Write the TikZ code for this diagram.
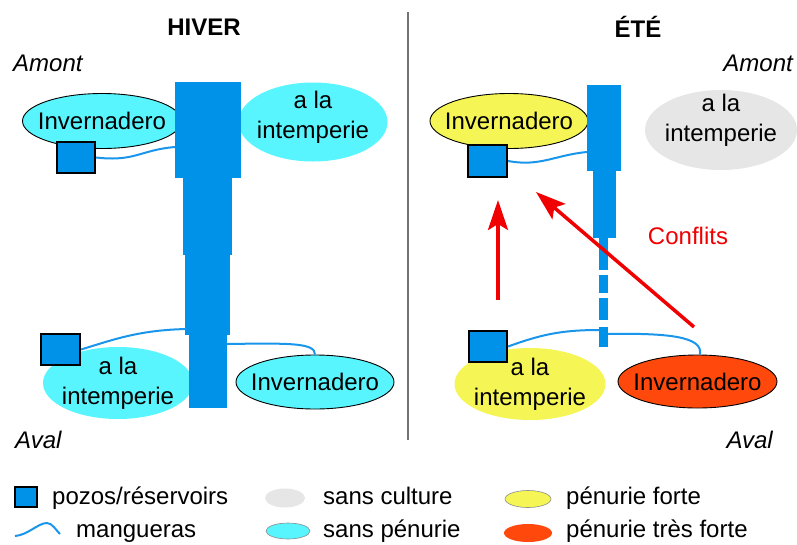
\documentclass[tikz,border=0pt]{standalone}
\usepackage{fontspec}
\setmainfont{Liberation Sans}
\usetikzlibrary{shapes.geometric,arrows.meta}
\definecolor{riverblue}{RGB}{0,146,232}
\definecolor{hoseblue}{RGB}{25,150,235}
\definecolor{cyanfill}{RGB}{88,245,255}
\definecolor{yellowfill}{RGB}{245,245,85}
\definecolor{grayfill}{RGB}{230,230,230}
\definecolor{redfill}{RGB}{255,72,12}
\definecolor{arrowred}{RGB}{240,0,0}
\begin{document}
\begin{tikzpicture}[x=1pt,y=-1pt,
  lbl/.style={inner sep=0pt, font=\fontsize{24}{29}\selectfont},
  ital/.style={inner sep=0pt, font=\itshape\fontsize{24}{29}\selectfont},
  ttl/.style={inner sep=0pt, font=\bfseries\fontsize{24}{29}\selectfont},
  ell/.style={ellipse, inner sep=0pt},
  etxt/.style={inner sep=0pt, align=center, font=\fontsize{24}{30}\selectfont},
  bord/.style={draw=black, line width=0.9pt},
  well/.style={rectangle, draw=black, line width=2.2pt, fill=riverblue, inner sep=0pt},
  hose/.style={draw=hoseblue, line width=2pt},
  conflict/.style={draw=arrowred, line width=3.5pt, -{Stealth[length=30pt,width=20pt,inset=6pt]}},
  river/.style={fill=riverblue}]
\useasboundingbox (0,0) rectangle (797,544);

% titles and divider
\node[ttl] (hiver) at (204,27) {HIVER};
\node[ttl] (ete) at (638,27) {ÉTÉ};
\coordinate (divtop) at (408,12);
\coordinate (divbot) at (408,440);
\draw[black!55, line width=1.2pt] (divtop) -- (divbot);

\node[ital, anchor=west] (amontL) at (13,63) {Amont};
\node[ital, anchor=east] (amontR) at (793,63) {Amont};
\node[ital, anchor=west] (avalL) at (15,440) {Aval};
\node[ital, anchor=east] (avalR) at (773,440) {Aval};

% ---------------- HIVER ----------------
\node[ell, bord, fill=cyanfill, minimum width=159pt, minimum height=55pt,
      label={[etxt]center:Invernadero}] (hinvT) at (102,121) {};
\node[ell, fill=cyanfill, minimum width=149pt, minimum height=79pt,
      label={[etxt, yshift=5pt]center:{a la\\intemperie}}] (hintT) at (313,122) {};
\node[ell, fill=cyanfill, minimum width=150pt, minimum height=72pt,
      label={[etxt]center:{a la\\intemperie}}] (hintB) at (118,383) {};
\node[ell, bord, fill=cyanfill, minimum width=158pt, minimum height=54pt,
      label={[etxt]center:Invernadero}] (hinvB) at (315,382) {};

\fill[river] (175,82) rectangle (241,178);
\fill[river] (183,178) rectangle (232,255);
\fill[river] (185,255) rectangle (230,335);
\fill[river] (189,335) rectangle (227,408);

\node[well, minimum width=38pt, minimum height=31pt] (hwT) at (76,157.5) {};
\node[well, minimum width=39pt, minimum height=31pt] (hwB) at (60.5,349.5) {};

\coordinate (hrT) at (175,147);
\coordinate (hrB) at (187,329);
\coordinate (hrR) at (227,344);
\draw[hose] (hwT.east) .. controls (135,162) and (140,150) .. (hrT);
\draw[hose] (hwB.east) .. controls (115,339) and (140,330) .. (hrB);
\draw[hose] (hrR) .. controls (292,343) and (315,343) .. (hinvB.north);

% ---------------- ETE ----------------
\node[ell, bord, fill=yellowfill, minimum width=158pt, minimum height=55pt,
      label={[etxt]center:Invernadero}] (einvT) at (509,121) {};
\node[ell, fill=grayfill, minimum width=152pt, minimum height=80pt,
      label={[etxt, yshift=10pt]center:{a la\\intemperie}}] (eintT) at (721,130) {};
\node[ell, fill=yellowfill, minimum width=151pt, minimum height=72pt,
      label={[etxt]center:{a la\\intemperie}}] (eintB) at (530,384) {};
\node[ell, bord, fill=redfill, minimum width=159pt, minimum height=53pt,
      label={[etxt]center:Invernadero}] (einvB) at (697.5,381.5) {};

\fill[river] (587,85) rectangle (621,171);
\fill[river] (593,171) rectangle (616,238);
\fill[river] (599,238) rectangle (608,270);
\fill[river] (599,275) rectangle (608,293);
\fill[river] (599,298) rectangle (608,320);
\fill[river] (599,327) rectangle (608,347);

\node[well, minimum width=39pt, minimum height=32pt] (ewT) at (487.5,161) {};
\node[well, minimum width=38pt, minimum height=31pt] (ewB) at (488,346.5) {};

\coordinate (erT) at (587,152);
\coordinate (erB) at (599,330);
\coordinate (erR) at (608,334);
\draw[hose] (ewT.east) .. controls (540,167) and (555,155) .. (erT);
\draw[hose] (ewB.east) .. controls (540,335) and (560,330) .. (erB);
\draw[hose] (erR) .. controls (665,333) and (704,336) .. (einvB.85);

\coordinate (a1s) at (498,300);
\coordinate (a1e) at (498,200);
\coordinate (a2s) at (694,327);
\coordinate (a2e) at (536,192);
\draw[conflict] (a1s) -- (a1e);
\draw[conflict] (a2s) -- (a2e);
\node[lbl, text=arrowred] (conf) at (688,236) {Conflits};

% ---------------- legend ----------------
\node[well, line width=1.6pt, minimum width=22pt, minimum height=20pt] (lgwell) at (26,497) {};
\node[lbl, anchor=base west] (lgwellt) at (52,504) {pozos/réservoirs};
\coordinate (lh1) at (15,536);
\coordinate (lh2) at (47,523);
\coordinate (lh3) at (60,534);
\draw[hose] (lh1) .. controls (28,535) and (38,523) .. (lh2) .. controls (52,523) and (56,530) .. (lh3);
\node[lbl, anchor=base west] (lghoset) at (76,537) {mangueras};

\node[ellipse, fill=grayfill, minimum width=40pt, minimum height=19pt, inner sep=0pt] (lggray) at (285,498) {};
\node[lbl, anchor=base west] (lggrayt) at (323,504) {sans culture};
\node[ellipse, fill=cyanfill, draw=black!45, line width=0.6pt, minimum width=44pt, minimum height=16pt, inner sep=0pt] (lgcyan) at (288,531) {};
\node[lbl, anchor=base west] (lgcyant) at (323,537) {sans pénurie};
\node[ellipse, fill=yellowfill, draw=black!45, line width=0.6pt, minimum width=46pt, minimum height=17pt, inner sep=0pt] (lgyel) at (528,499) {};
\node[lbl, anchor=base west] (lgyelt) at (566,504) {pénurie forte};
\node[ellipse, fill=redfill, minimum width=48pt, minimum height=18pt, inner sep=0pt] (lgred) at (528,533) {};
\node[lbl, anchor=base west] (lgredt) at (566,537) {pénurie très forte};
\end{tikzpicture}
\end{document}
